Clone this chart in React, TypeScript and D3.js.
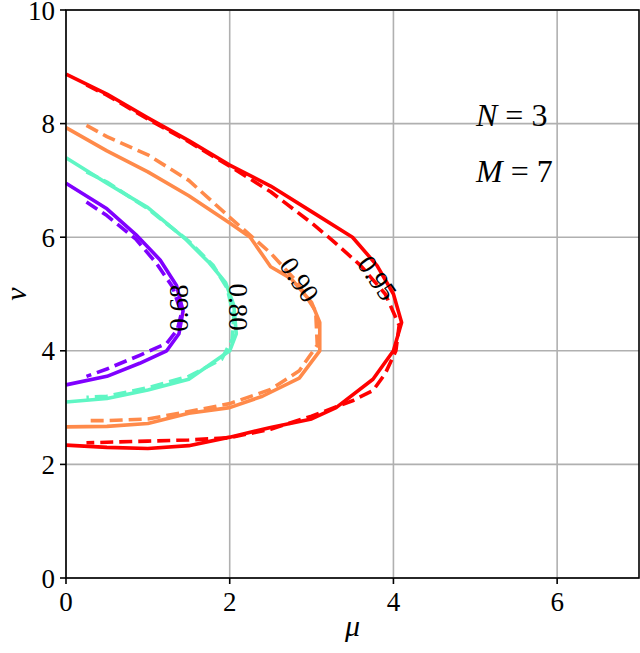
import React from "react";
import * as d3 from "d3";

// contour levels and their colours (matplotlib "rainbow")
const levels = ["0.68", "0.80", "0.90", "0.95"];
const colors = ["#8000ff", "#5ff6c4", "#ff8a4a", "#ff0000"];

// solid contours, [mu, nu]
const solid68 = [[0, 6.95], [0.5, 6.5], [0.85, 6.05], [1.15, 5.6], [1.35, 5.15], [1.43, 4.7], [1.38, 4.3], [1.23, 4.0], [0.9, 3.78], [0.5, 3.55], [0, 3.4]];
const solid80 = [[0, 7.4], [0.5, 6.95], [1.0, 6.52], [1.45, 5.98], [1.75, 5.55], [1.95, 5.2], [2.05, 4.8], [2.08, 4.3], [2.0, 4.0], [1.5, 3.5], [1.0, 3.31], [0.5, 3.16], [0, 3.1]];
const solid90 = [[0, 7.93], [0.5, 7.52], [1.0, 7.15], [1.5, 6.73], [2.0, 6.25], [2.25, 6.0], [2.5, 5.48], [2.75, 5.27], [3.0, 4.85], [3.1, 4.5], [3.1, 4.0], [2.85, 3.52], [2.4, 3.2], [2.0, 3.0], [1.5, 2.9], [1.0, 2.72], [0.5, 2.67], [0, 2.66]];
const solid95 = [[0, 8.87], [0.5, 8.52], [1.0, 8.1], [1.5, 7.7], [2.0, 7.27], [2.5, 6.9], [3.0, 6.45], [3.5, 6.0], [3.8, 5.5], [4.0, 5.0], [4.1, 4.5], [4.0, 4.0], [3.75, 3.5], [3.3, 3.0], [3.0, 2.8], [2.5, 2.65], [2.0, 2.48], [1.5, 2.33], [1.0, 2.28], [0.5, 2.3], [0, 2.34]];

// dashed contours, [mu, nu]
const dashed68 = [[0.25, 6.62], [0.5, 6.38], [0.85, 5.97], [1.1, 5.55], [1.3, 5.13], [1.41, 4.66], [1.36, 4.37], [1.23, 4.13], [0.9, 3.92], [0.5, 3.68], [0.25, 3.55]];
const dashed80 = [[0.25, 7.15], [0.5, 6.97], [1.0, 6.5], [1.5, 5.93], [1.8, 5.5], [1.97, 5.1], [2.05, 4.6], [2.03, 4.2], [1.9, 3.85], [1.5, 3.55], [1.0, 3.35], [0.5, 3.2], [0.25, 3.18]];
const dashed90 = [[0.25, 7.97], [0.5, 7.77], [1.0, 7.45], [1.5, 7.0], [2.0, 6.35], [2.5, 5.72], [2.8, 5.25], [3.05, 4.7], [3.07, 4.1], [2.85, 3.65], [2.5, 3.32], [2.0, 3.07], [1.5, 2.93], [1.0, 2.8], [0.5, 2.77], [0.25, 2.77]];
const dashed95 = [[0.25, 8.68], [0.5, 8.5], [1.0, 8.08], [1.5, 7.68], [2.0, 7.25], [2.5, 6.8], [3.0, 6.25], [3.25, 5.95], [3.6, 5.5], [3.9, 5.0], [4.07, 4.45], [4.03, 4.0], [3.9, 3.6], [3.75, 3.3], [3.5, 3.12], [3.0, 2.85], [2.5, 2.62], [2.0, 2.47], [1.5, 2.43], [1.0, 2.41], [0.5, 2.39], [0.25, 2.38]];

const solidSeries = [solid68, solid80, solid90, solid95];
const dashedSeries = [dashed68, dashed80, dashed90, dashed95];

// contour label anchors [mu, nu, angle]
const labelAnchors = [[1.38, 4.75, -90], [2.1, 4.77, 90], [2.85, 5.25, 56], [3.8, 5.28, 55]];

const xTicks = [0, 2, 4, 6];
const yTicks = [0, 2, 4, 6, 8, 10];

const W = 640;
const H = 653;
const left = 66;
const right = 639;
const top = 10;
const bottom = 578;

const serif = "Liberation Serif";

export default function App() {
  const x = d3.scaleLinear().domain([0, 7]).range([left, right]);
  const y = d3.scaleLinear().domain([0, 10]).range([bottom, top]);
  const line = d3
    .line<number[]>()
    .x((d) => x(d[0]))
    .y((d) => y(d[1]));

  return (
    <svg
      width={W}
      height={H}
      fontFamily={serif}
      style={{ position: "absolute", left: 0, top: 0, display: "block", background: "#fff" }}
    >
      {/* grid */}
      <g stroke="#b0b0b0" strokeWidth={1.6}>
        {xTicks.map((t) => (
          <line key={"gx" + t} x1={x(t)} x2={x(t)} y1={top} y2={bottom} />
        ))}
        {yTicks.map((t) => (
          <line key={"gy" + t} x1={left} x2={right} y1={y(t)} y2={y(t)} />
        ))}
      </g>

      {/* contours */}
      <g fill="none" strokeWidth={3.6} strokeLinejoin="round">
        {solidSeries.map((s, i) => (
          <path key={"s" + i} d={line(s) || ""} stroke={colors[i]} />
        ))}
        {dashedSeries.map((s, i) => (
          <path key={"d" + i} d={line(s) || ""} stroke={colors[i]} strokeDasharray="13,6" />
        ))}
      </g>

      {/* contour labels */}
      {labelAnchors.map((a, i) => (
        <text
          key={"l" + i}
          transform={`translate(${x(a[0])},${y(a[1])}) rotate(${a[2]})`}
          textAnchor="middle"
          dominantBaseline="central"
          fontSize={27}
          fill="#000"
        >
          {levels[i]}
        </text>
      ))}

      {/* spines */}
      <rect x={left} y={top} width={right - left} height={bottom - top} fill="none" stroke="#000" strokeWidth={1.6} />

      {/* ticks */}
      <g stroke="#000" strokeWidth={1.6}>
        {xTicks.map((t) => (
          <line key={"tx" + t} x1={x(t)} x2={x(t)} y1={bottom} y2={bottom + 6} />
        ))}
        {yTicks.map((t) => (
          <line key={"ty" + t} x1={left - 6} x2={left} y1={y(t)} y2={y(t)} />
        ))}
      </g>
      <g fontSize={27} fill="#000">
        {xTicks.map((t) => (
          <text key={"lx" + t} x={x(t)} y={bottom + 33} textAnchor="middle">
            {t}
          </text>
        ))}
        {yTicks.map((t) => (
          <text key={"ly" + t} x={left - 11} y={y(t) + 9.5} textAnchor="end">
            {t}
          </text>
        ))}
      </g>

      {/* axis labels */}
      <text x={(left + right) / 2} y={636} textAnchor="middle" fontSize={30} fontStyle="italic">
        μ
      </text>
      <text transform={`translate(26,${(top + bottom) / 2}) rotate(-90)`} textAnchor="middle" fontSize={30} fontStyle="italic">
        ν
      </text>

      {/* annotation */}
      <text x={476} y={126} fontSize={32}>
        <tspan fontStyle="italic">N</tspan>
        <tspan> = 3</tspan>
      </text>
      <text x={476} y={182} fontSize={32}>
        <tspan fontStyle="italic">M</tspan>
        <tspan> = 7</tspan>
      </text>
    </svg>
  );
}
